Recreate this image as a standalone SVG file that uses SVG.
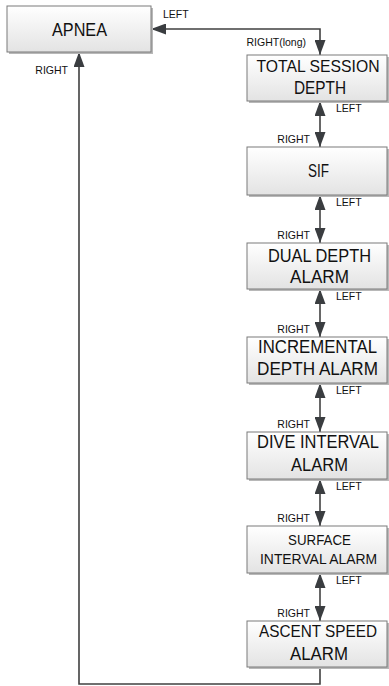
<svg xmlns="http://www.w3.org/2000/svg" width="389" height="686" viewBox="0 0 389 686">
<style>
.box{fill:url(#g);stroke:#7a7a7a;stroke-width:1}
.sh{fill:#b8b8b8}
.t{font-family:"Liberation Sans",Arial,sans-serif;font-size:18px;fill:#111;text-anchor:middle}
.tn{font-size:16.5px}
.ts{font-family:"Liberation Sans",Arial,sans-serif;font-size:15px;fill:#111;text-anchor:middle}
.l{font-family:"Liberation Sans",Arial,sans-serif;font-size:10.5px;fill:#111}
.r{text-anchor:end}
.c{fill:none;stroke:#404040;stroke-width:1.6}
</style>
<defs>
<linearGradient id="g" x1="0" y1="0" x2="0" y2="1">
<stop offset="0" stop-color="#ffffff"/>
<stop offset="1" stop-color="#e3e3e3"/>
</linearGradient>
<marker id="a" markerUnits="userSpaceOnUse" markerWidth="15" markerHeight="11" refX="15" refY="5.5" orient="auto-start-reverse">
<path d="M0,0 L15,5.5 L0,11 z" fill="#3a3d40"/>
</marker>
</defs>
<g id="connectors">
<path class="c" d="M320,55 V29 H151" marker-start="url(#a)" marker-end="url(#a)"/>
<path class="c" d="M320,101 V147" marker-start="url(#a)" marker-end="url(#a)"/>
<path class="c" d="M320,195 V243" marker-start="url(#a)" marker-end="url(#a)"/>
<path class="c" d="M320,289 V337" marker-start="url(#a)" marker-end="url(#a)"/>
<path class="c" d="M320,383 V432" marker-start="url(#a)" marker-end="url(#a)"/>
<path class="c" d="M320,479 V526" marker-start="url(#a)" marker-end="url(#a)"/>
<path class="c" d="M320,573 V621" marker-start="url(#a)" marker-end="url(#a)"/>
<path class="c" d="M320,667 V684 H79 V52" marker-end="url(#a)"/>
<text class="l" x="163" y="18">LEFT</text>
<text class="l r" x="306" y="46">RIGHT(long)</text>
<text class="l r" x="68" y="74">RIGHT</text>
<text class="l" x="336" y="112">LEFT</text>
<text class="l r" x="310" y="143">RIGHT</text>
<text class="l" x="336" y="206">LEFT</text>
<text class="l r" x="310" y="239">RIGHT</text>
<text class="l" x="336" y="300">LEFT</text>
<text class="l r" x="310" y="333">RIGHT</text>
<text class="l" x="336" y="394">LEFT</text>
<text class="l r" x="310" y="428">RIGHT</text>
<text class="l" x="336" y="490">LEFT</text>
<text class="l r" x="310" y="522">RIGHT</text>
<text class="l" x="336" y="584">LEFT</text>
<text class="l r" x="310" y="617">RIGHT</text>
</g>
<g id="apnea">
<rect class="sh" x="9" y="8" width="144" height="46"/>
<rect class="box" x="7" y="6" width="144" height="46"/>
<text class="t" x="79.5" y="36" textLength="55" lengthAdjust="spacingAndGlyphs">APNEA</text>
</g>
<g id="total-session-depth">
<rect class="sh" x="249" y="57" width="140" height="46"/>
<rect class="box" x="247" y="55" width="140" height="46"/>
<text class="t tn" x="318" y="72" textLength="123" lengthAdjust="spacingAndGlyphs">TOTAL SESSION</text>
<text class="t" x="320" y="94" textLength="52" lengthAdjust="spacingAndGlyphs">DEPTH</text>
</g>
<g id="sif">
<rect class="sh" x="249" y="149" width="140" height="48"/>
<rect class="box" x="247" y="147" width="140" height="48"/>
<text class="t" x="318.5" y="177" textLength="21" lengthAdjust="spacingAndGlyphs">SIF</text>
</g>
<g id="dual-depth-alarm">
<rect class="sh" x="249" y="245" width="140" height="46"/>
<rect class="box" x="247" y="243" width="140" height="46"/>
<text class="t" x="319.5" y="262" textLength="103" lengthAdjust="spacingAndGlyphs">DUAL DEPTH</text>
<text class="t" x="319.5" y="283" textLength="59" lengthAdjust="spacingAndGlyphs">ALARM</text>
</g>
<g id="incremental-depth-alarm">
<rect class="sh" x="249" y="339" width="140" height="46"/>
<rect class="box" x="247" y="337" width="140" height="46"/>
<text class="t" x="317.5" y="353" textLength="119" lengthAdjust="spacingAndGlyphs">INCREMENTAL</text>
<text class="t" x="317.5" y="375" textLength="121" lengthAdjust="spacingAndGlyphs">DEPTH ALARM</text>
</g>
<g id="dive-interval-alarm">
<rect class="sh" x="249" y="434" width="140" height="47"/>
<rect class="box" x="247" y="432" width="140" height="47"/>
<text class="t" x="318" y="448" textLength="122" lengthAdjust="spacingAndGlyphs">DIVE INTERVAL</text>
<text class="t" x="319.5" y="471" textLength="57" lengthAdjust="spacingAndGlyphs">ALARM</text>
</g>
<g id="surface-interval-alarm">
<rect class="sh" x="249" y="528" width="140" height="47"/>
<rect class="box" x="247" y="526" width="140" height="47"/>
<text class="ts" x="319.5" y="545" textLength="63" lengthAdjust="spacingAndGlyphs">SURFACE</text>
<text class="ts" x="318.5" y="564" textLength="117" lengthAdjust="spacingAndGlyphs">INTERVAL ALARM</text>
</g>
<g id="ascent-speed-alarm">
<rect class="sh" x="249" y="623" width="140" height="46"/>
<rect class="box" x="247" y="621" width="140" height="46"/>
<text class="t tn" x="318" y="637" textLength="118" lengthAdjust="spacingAndGlyphs">ASCENT SPEED</text>
<text class="t" x="319" y="660" textLength="58" lengthAdjust="spacingAndGlyphs">ALARM</text>
</g>
</svg>
